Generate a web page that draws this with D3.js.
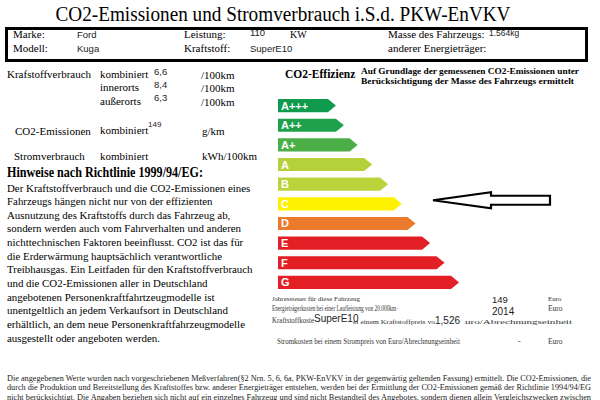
<!DOCTYPE html>
<html>
<head>
<meta charset="utf-8">
<script src="https://cdn.jsdelivr.net/npm/d3@7"></script>
<style>
  body { margin: 0; background: #fff; }
  svg { display: block; }
</style>
</head>
<body>
<div id="chart"></div>
<script>
// Effizienzklassen
const classes = ["A+++", "A++", "A+", "A", "B", "C", "D", "E", "F", "G"];
const classLength = [4, 4.55, 5.5, 6.5, 7.6, 8.55, 9.5, 10.5, 11.5, 12.5];
const classColors = ["#109a4d", "#1fa14b", "#4cae47", "#b5d03a", "#bcd43c", "#fff200", "#ec7a2c", "#e31e25", "#e31e25", "#e31e25"];
const vehicleClass = "C";

// Fahrzeugdaten
const headerLabels = ["Marke:", "Modell:", "Leistung:", "Kraftstoff:", "Masse des Fahrzeugs:", "anderer Energieträger:"];
const headerValues = ["Ford", "Kuga", "110", "SuperE10", "1.564kg", ""];

// Verbrauch
const consumptionLabels = ["kombiniert", "innerorts", "außerorts"];
const consumptionValues = ["6,6", "8,4", "6,3"];
const co2Value = "149";

// Kosten
const costValues = ["149", "2014"];
const fuelPrice = "1,526";

const paragraph = [
  "Der Kraftstoffverbrauch und die CO2-Emissionen eines",
  "Fahrzeugs hängen nicht nur von der effizienten",
  "Ausnutzung des Kraftstoffs durch das Fahrzeug ab,",
  "sondern werden auch vom Fahrverhalten und anderen",
  "nichttechnischen Faktoren beeinflusst. CO2 ist das für",
  "die Erderwärmung hauptsächlich verantwortliche",
  "Treibhausgas. Ein Leitfaden für den Kraftstoffverbrauch",
  "und die CO2-Emissionen aller in Deutschland",
  "angebotenen Personenkraftfahrtzeugmodelle ist",
  "unentgeltlich an jedem Verkaufsort in Deutschland",
  "erhältlich, an dem neue Personenkraftfahrzeugmodelle",
  "ausgestellt oder angeboten werden."
];

const disclaimer = [
  "Die angegebenen Werte wurden nach vorgeschriebenen Meßverfahren(§2 Nrn. 5, 6, 6a, PKW-EnVKV in der gegenwärtig geltenden Fassung) ermittelt. Die CO2-Emissionen, die",
  "durch die Produktion und Bereitstellung des Kraftstoffes bzw. anderer Energieträger entstehen, werden bei der Ermittlung der CO2-Emissionen gemäß der Richtlinie 1994/94/EG",
  "nicht berücksichtigt. Die Angaben beziehen sich nicht auf ein einzelnes Fahrzeug und sind nicht Bestandteil des Angebotes, sondern dienen allein Vergleichszwecken zwischen"
];

const serif = "'Liberation Serif', 'Times New Roman', serif";
const sans = "'Liberation Sans', Arial, sans-serif";

const svg = d3.select("#chart").append("svg")
    .attr("width", 600)
    .attr("height", 400);

svg.append("rect").attr("width", 600).attr("height", 400).attr("fill", "#fff");

function txt(x, y, s, size, opts = {}) {
  const t = svg.append("text")
      .attr("x", x)
      .attr("y", y)
      .attr("font-family", opts.family || serif)
      .attr("font-size", size)
      .attr("font-weight", opts.bold ? "bold" : null)
      .attr("fill", opts.fill || "#000")
      .attr("text-anchor", opts.anchor || null)
      .text(s);
  if (opts.len) t.attr("textLength", opts.len).attr("lengthAdjust", "spacingAndGlyphs");
  return t;
}

// Titel
txt(283, 21, "CO2-Emissionen und Stromverbrauch i.S.d. PKW-EnVKV", 20, { anchor: "middle", len: 455 });

// Kopfbox
svg.append("rect")
    .attr("x", 6.5).attr("y", 28.5)
    .attr("width", 580).attr("height", 32)
    .attr("fill", "none")
    .attr("stroke", "#000")
    .attr("stroke-width", 3);

const labelX = [13, 13, 184, 184, 388, 388];
const valueX = [77, 77, 250, 250, 489, 489];
const rowY = [38, 52];
headerLabels.forEach((l, i) => txt(labelX[i], rowY[i % 2], l, 11));
headerValues.forEach((v, i) => txt(valueX[i], rowY[i % 2] - (i === 2 || i === 4 ? 2 : 0), v, i === 4 ? 8.5 : 9.5, { family: sans, fill: "#222" }));
txt(290, 38, "KW", 10);

// Verbrauch
txt(7, 78, "Krafstoffverbrauch", 11);
consumptionLabels.forEach((l, i) => {
  const y = 78 + i * 13.3;
  txt(100, y, l, 11);
  txt(154, y - 3.5, consumptionValues[i], 9.5, { family: sans, fill: "#222" });
  txt(201, y + 1, "/100km", 11);
});

txt(15, 135, "CO2-Emissionen", 11);
txt(100, 134, "kombiniert", 11);
txt(148, 127, co2Value, 8, { family: sans, fill: "#222" });
txt(202, 135, "g/km", 11);

txt(14, 160, "Stromverbrauch", 11);
txt(100, 160, "kombiniert", 11);
txt(202, 160, "kWh/100km", 11);

txt(7, 177, "Hinweise nach Richtlinie 1999/94/EG:", 14, { bold: true, len: 196 });
paragraph.forEach((l, i) => txt(7, 191.5 + i * 13.65, l, 10.9));

// CO2-Effizienz
txt(285, 78, "CO2-Effizienz", 11.5, { bold: true });
txt(361, 74, "Auf Grundlage der gemessenen CO2-Emissionen unter", 8, { bold: true, len: 218 });
txt(361, 84, "Berücksichtigung der Masse des Fahrzeugs ermittelt", 8, { bold: true, len: 213 });

const y = d3.scaleBand()
    .domain(classes)
    .range([99, 289])
    .paddingInner(0.33)
    .paddingOuter(0);

const x = d3.scaleLinear()
    .domain([0, 12.5])
    .range([278, 459]);

const tip = 8;
const bars = svg.append("g").selectAll("g")
  .data(classes.map((c, i) => ({ c, v: classLength[i], color: classColors[i] })))
  .join("g");

bars.append("path")
    .attr("d", d => {
      const y0 = y(d.c), h = y.bandwidth(), xe = x(d.v);
      const p = d3.path();
      p.moveTo(x(0), y0);
      p.lineTo(xe - tip, y0);
      p.lineTo(xe, y0 + h / 2);
      p.lineTo(xe - tip, y0 + h);
      p.lineTo(x(0), y0 + h);
      p.closePath();
      return p.toString();
    })
    .attr("fill", d => d.color);

bars.append("text")
    .attr("x", x(0) + 3)
    .attr("y", d => y(d.c) + y.bandwidth() / 2 + 4)
    .attr("font-family", sans)
    .attr("font-weight", "bold")
    .attr("font-size", 11)
    .attr("fill", "#fff")
    .text(d => d.c);

// Pfeil
const ay = y(vehicleClass) + 3;
const arrow = d3.path();
arrow.moveTo(433, ay);
arrow.lineTo(491, ay - 8);
arrow.lineTo(491, ay - 4.5);
arrow.lineTo(550, ay - 4.5);
arrow.lineTo(550, ay + 4.5);
arrow.lineTo(491, ay + 4.5);
arrow.lineTo(491, ay + 8);
arrow.closePath();
svg.append("path")
    .attr("d", arrow.toString())
    .attr("fill", "#fff")
    .attr("stroke", "#000")
    .attr("stroke-width", 2.2)
    .attr("stroke-linejoin", "miter");

// Kosten
txt(272, 301, "Jahressteuer für diese Fahrzeug", 7, { fill: "#333" });
txt(492, 303, costValues[0], 9.5, { family: sans, fill: "#222" });
txt(548, 301, "Euro", 7, { fill: "#333" });
txt(272, 311, "Energieträgerkosten bei einer Laufleistung von 20.000km·", 7.5, { fill: "#333", len: 126 });
txt(492, 315, costValues[1], 10, { family: sans, fill: "#222" });
txt(548, 311, "Euro", 7.5, { fill: "#333" });
txt(272, 323, "Kraftstoffkoste", 7.5, { fill: "#333", len: 42 });
txt(314, 322, headerValues[3], 10, { family: sans, fill: "#222" });
txt(353, 324, "ei einem Kraftstoffpreis vo", 7, { fill: "#333", len: 82 });
txt(435, 324, fuelPrice, 10, { family: sans, fill: "#222" });
txt(465, 324, "uro/Abrechnungseinheit", 7, { fill: "#333", len: 107 });
txt(277, 344, "Stromkosten bei einem Strompreis von Euro/Abrechnungseinheit", 7.5, { fill: "#333", len: 183 });
txt(518, 344, "-", 8, { fill: "#333" });
txt(548, 344, "Euro", 7.5, { fill: "#333" });

// Fußnote
disclaimer.forEach((l, i) => txt(7, 380.5 + i * 9.5, l, 7.5, { fill: "#222", len: 584 }));
</script>
</body>
</html>
